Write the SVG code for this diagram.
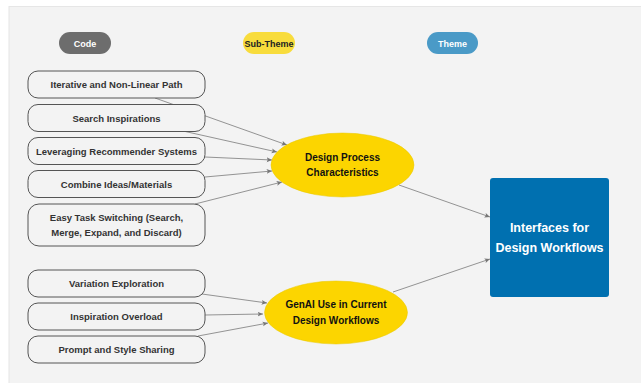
<svg xmlns="http://www.w3.org/2000/svg" width="641" height="383" viewBox="0 0 641 383">
<defs>
<marker id="ah" viewBox="0 0 10 10" refX="9" refY="5" markerWidth="6" markerHeight="6" markerUnits="userSpaceOnUse" orient="auto">
<path d="M0,1 L9,5 L0,9 L2,5 Z" fill="#777"/>
</marker>
<style>
.code rect{fill:#f3f3f3;stroke:#555;stroke-width:1}
.code text{font-family:"Liberation Sans",Arial,sans-serif;font-size:9.5px;font-weight:bold;fill:#333;text-anchor:middle}
.st ellipse{fill:#fcd500;stroke:#e8c800;stroke-width:0.5}
.st text{font-family:"Liberation Sans",Arial,sans-serif;font-size:10px;font-weight:bold;fill:#111;text-anchor:middle}
.lg text{font-family:"Liberation Sans",Arial,sans-serif;font-size:9px;font-weight:bold;text-anchor:middle}
#edges line{stroke:#888;stroke-width:0.9;marker-end:url(#ah)}
</style>
</defs>
<rect x="0" y="0" width="641" height="383" fill="#ffffff"/>
<rect x="9" y="6.5" width="640" height="390" fill="#f3f3f3" stroke="#e6e6e6" stroke-width="1"/>

<g id="legend-code" class="lg"><rect x="59" y="32" width="52" height="22" rx="11" fill="#6d6d6d"/><text x="85" y="46.5" fill="#fff">Code</text></g>
<g id="legend-subtheme" class="lg"><rect x="243" y="32" width="52" height="22" rx="11" fill="#f8dc3c"/><text x="269" y="46.5" fill="#222">Sub-Theme</text></g>
<g id="legend-theme" class="lg"><rect x="427" y="32" width="51" height="22" rx="11" fill="#4a9ac7"/><text x="452.5" y="46.5" fill="#fff">Theme</text></g>

<g id="edges">
<line x1="155" y1="98" x2="287" y2="145"/>
<line x1="183" y1="131" x2="277" y2="152"/>
<line x1="205" y1="157" x2="272" y2="160"/>
<line x1="205" y1="177" x2="272" y2="171"/>
<line x1="195" y1="204" x2="282" y2="182"/>
<line x1="399" y1="185" x2="490" y2="217"/>
<line x1="393" y1="292" x2="490" y2="259"/>
<line x1="202" y1="294" x2="267" y2="303"/>
<line x1="205" y1="315" x2="263" y2="314"/>
<line x1="198" y1="336" x2="268" y2="323"/>
</g>

<g id="code1" class="code"><rect x="28" y="71" width="177" height="27" rx="10"/><text x="116.5" y="88">Iterative and Non-Linear Path</text></g>
<g id="code2" class="code"><rect x="28" y="104.5" width="177" height="27" rx="10"/><text x="116.5" y="121.5">Search Inspirations</text></g>
<g id="code3" class="code"><rect x="28" y="137.5" width="177" height="27" rx="10"/><text x="116.5" y="154.5">Leveraging Recommender Systems</text></g>
<g id="code4" class="code"><rect x="28" y="170.5" width="177" height="27" rx="10"/><text x="116.5" y="187.5">Combine Ideas/Materials</text></g>
<g id="code5" class="code"><rect x="28" y="204" width="177" height="42" rx="11"/><text x="116.5" y="221">Easy Task Switching (Search,</text><text x="116.5" y="236">Merge, Expand, and Discard)</text></g>
<g id="code6" class="code"><rect x="28" y="270" width="177" height="27" rx="10"/><text x="116.5" y="287">Variation Exploration</text></g>
<g id="code7" class="code"><rect x="28" y="303" width="177" height="27" rx="10"/><text x="116.5" y="320">Inspiration Overload</text></g>
<g id="code8" class="code"><rect x="28" y="336" width="177" height="27" rx="10"/><text x="116.5" y="353">Prompt and Style Sharing</text></g>

<g id="subtheme1" class="st"><ellipse cx="342.5" cy="165" rx="71.5" ry="32"/><text x="342.5" y="160.5">Design Process</text><text x="342.5" y="176">Characteristics</text></g>
<g id="subtheme2" class="st"><ellipse cx="336" cy="312.5" rx="71.5" ry="31.5"/><text x="336" y="308">GenAI Use in Current</text><text x="336" y="323.5">Design Workflows</text></g>

<g id="theme"><rect x="490" y="178" width="119" height="119" rx="3" fill="#0070b0"/>
<text x="549.5" y="232" font-family="Liberation Sans,Arial,sans-serif" font-size="12.5" font-weight="bold" fill="#fff" text-anchor="middle">Interfaces for</text>
<text x="549.5" y="251.5" font-family="Liberation Sans,Arial,sans-serif" font-size="12.5" font-weight="bold" fill="#fff" text-anchor="middle">Design Workflows</text></g>
</svg>
